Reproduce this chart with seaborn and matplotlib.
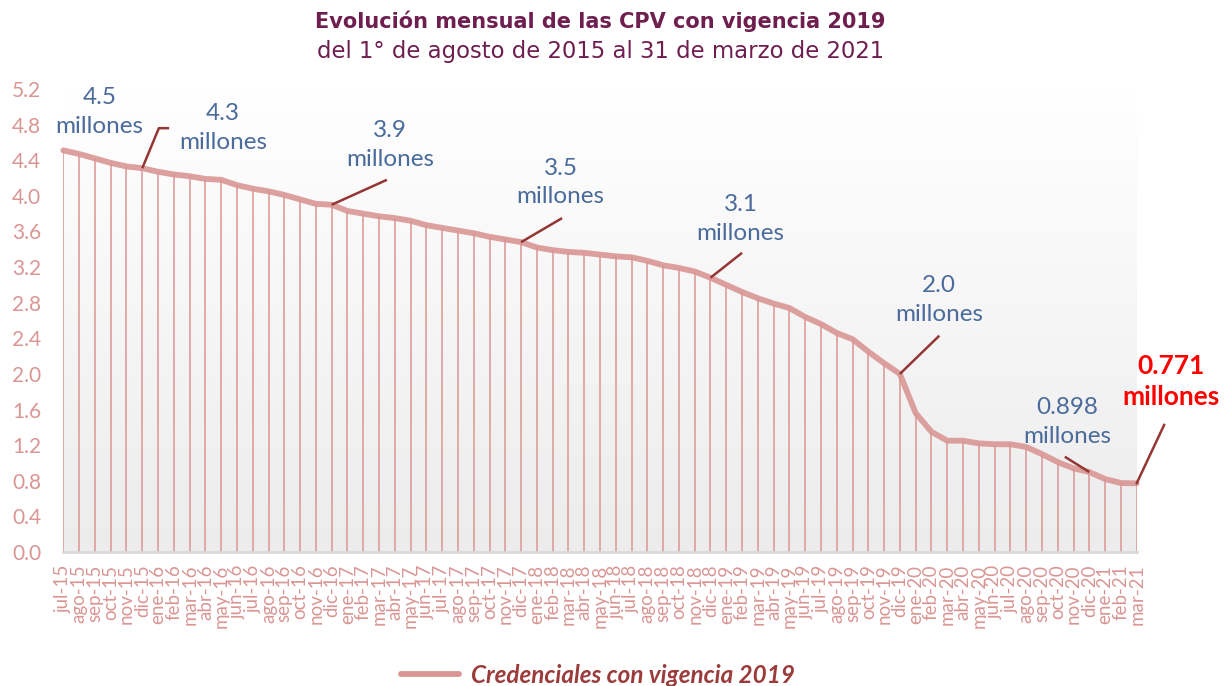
import numpy as np
import pandas as pd
import seaborn as sns
import matplotlib.pyplot as plt
from matplotlib.colors import LinearSegmentedColormap
from matplotlib.lines import Line2D

# -----------------------------------------------------
# DATOS
# -----------------------------------------------------
meses = [
    "jul-15", "ago-15", "sep-15", "oct-15", "nov-15", "dic-15",
    "ene-16", "feb-16", "mar-16", "abr-16", "may-16", "jun-16",
    "jul-16", "ago-16", "sep-16", "oct-16", "nov-16", "dic-16",
    "ene-17", "feb-17", "mar-17", "abr-17", "may-17", "jun-17",
    "jul-17", "ago-17", "sep-17", "oct-17", "nov-17", "dic-17",
    "ene-18", "feb-18", "mar-18", "abr-18", "may-18", "jun-18",
    "jul-18", "ago-18", "sep-18", "oct-18", "nov-18", "dic-18",
    "ene-19", "feb-19", "mar-19", "abr-19", "may-19", "jun-19",
    "jul-19", "ago-19", "sep-19", "oct-19", "nov-19", "dic-19",
    "ene-20", "feb-20", "mar-20", "abr-20", "may-20", "jun-20",
    "jul-20", "ago-20", "sep-20", "oct-20", "nov-20", "dic-20",
    "ene-21", "feb-21", "mar-21",
]

credenciales = [
    4.51, 4.47, 4.42, 4.37, 4.33, 4.31,
    4.27, 4.24, 4.22, 4.19, 4.18, 4.12,
    4.08, 4.05, 4.01, 3.96, 3.91, 3.90,
    3.83, 3.80, 3.77, 3.75, 3.72, 3.67,
    3.64, 3.61, 3.58, 3.54, 3.51, 3.48,
    3.42, 3.39, 3.37, 3.36, 3.34, 3.32,
    3.31, 3.27, 3.22, 3.19, 3.15, 3.08,
    3.00, 2.92, 2.85, 2.79, 2.74, 2.64,
    2.56, 2.46, 2.39, 2.25, 2.12, 2.00,
    1.56, 1.35, 1.25, 1.25, 1.22, 1.21,
    1.21, 1.18, 1.10, 1.01, 0.94, 0.898,
    0.82, 0.775, 0.771,
]

y_ticks = [0.0, 0.4, 0.8, 1.2, 1.6, 2.0, 2.4, 2.8, 3.2, 3.6, 4.0, 4.4, 4.8, 5.2]

# etiquetas: texto, mes al que apunta (o None), posicion del texto, fin del conector
etiquetas = [
    ("4.5\nmillones", None, (2.3, 4.94), None),
    ("4.3\nmillones", "dic-15", (10.1, 4.76), (6.7, 4.76)),
    ("3.9\nmillones", "dic-16", (20.7, 4.57), (20.5, 4.18)),
    ("3.5\nmillones", "dic-17", (31.5, 4.15), (31.6, 3.75)),
    ("3.1\nmillones", "dic-18", (42.9, 3.74), (43.0, 3.36)),
    ("2.0\nmillones", "dic-19", (55.5, 2.83), (55.5, 2.43)),
    ("0.898\nmillones", "dic-20", (63.6, 1.46), (63.45, 1.07)),
]

df = pd.DataFrame({"mes": meses, "valor": credenciales})
df["x"] = np.arange(len(df))

# -----------------------------------------------------
# ESTILO
# -----------------------------------------------------
sns.set_theme(style="white")
plt.rcParams["font.family"] = ["Lato", "DejaVu Sans"]

rosa = "#D99694"
azul = "#4A6B9B"
guinda = "#943634"

fig = plt.figure(figsize=(12.28, 6.86), dpi=100)
ax = fig.add_axes([0.0516, 0.1953, 0.874, 0.675])

# fondo degradado
grad = LinearSegmentedColormap.from_list("g", ["#ffffff", "#ececec"])
ax.imshow(np.linspace(0, 1, 256).reshape(-1, 1), extent=[0, len(df) - 1, 0, 5.2],
          aspect="auto", cmap=grad, origin="upper", zorder=0)

# lineas verticales
ax.vlines(df["x"], 0, df["valor"], color=rosa, lw=1.1, zorder=2)

sns.lineplot(data=df, x="x", y="valor", ax=ax, color=rosa, lw=4.2,
             legend=False, zorder=3, clip_on=False, alpha=0.9)

ax.set_xlim(0, len(df) - 1)
ax.set_ylim(0, 5.2)
ax.set_xlabel("")
ax.set_ylabel("")

ax.set_xticks(df["x"])
ax.set_xticklabels(meses, rotation=90, fontsize=13.5, color=rosa)
ax.set_yticks(y_ticks)
ax.set_yticklabels([f"{v:.1f}" for v in y_ticks], fontsize=15, color=rosa)
ax.tick_params(axis="x", length=0, pad=9)
ax.tick_params(axis="y", length=0, pad=16)

for s in ["top", "right", "left"]:
    ax.spines[s].set_visible(False)
ax.spines["bottom"].set_color("#d9d9d9")
ax.spines["bottom"].set_linewidth(2)
ax.spines["bottom"].set_zorder(4)

# -----------------------------------------------------
# ETIQUETAS
# -----------------------------------------------------
for texto, mes, pos, fin in etiquetas:
    ax.text(pos[0], pos[1], texto, ha="center", va="center", fontsize=17.5,
            color=azul, linespacing=1.45, zorder=5)
    if mes is not None:
        i = meses.index(mes)
        xs = [i, fin[0]]
        ys = [credenciales[i], fin[1]]
        if mes == "dic-15":
            xs = [i, 6.05, fin[0]]
            ys = [credenciales[i], 4.76, fin[1]]
        ax.plot(xs, ys, color=guinda, lw=1.8, zorder=5, solid_capstyle="butt")

# ultimo valor
i = meses.index("mar-21")
ax.text(70.2, 1.91, "0.771\nmillones", ha="center", va="center", fontsize=19,
        fontweight="bold", color="#FF0000", linespacing=1.35, clip_on=False)
ax.plot([i, 69.75], [credenciales[i], 1.43], color=guinda, lw=1.8,
        clip_on=False, zorder=5)

# -----------------------------------------------------
# TITULO Y LEYENDA
# -----------------------------------------------------
fig.text(0.489, 0.969, "Evolución mensual de las CPV con vigencia 2019",
         ha="center", va="center", fontsize=15, fontweight="bold",
         color="#6E1E4F", family="DejaVu Sans")
fig.text(0.489, 0.925, "del 1° de agosto de 2015 al 31 de marzo de 2021",
         ha="center", va="center", fontsize=16.4, color="#6E1E4F",
         family="DejaVu Sans")

handle = Line2D([0], [0], color=rosa, lw=4.2)
fig.legend([handle], ["Credenciales con vigencia 2019"], loc="center",
           bbox_to_anchor=(0.487, 0.016), frameon=False, handlelength=2.4,
           handletextpad=0.5,
           prop={"style": "italic", "weight": "bold", "size": 17.5},
           labelcolor="#9B3B3B")

fig.savefig("out.png", dpi=100)
